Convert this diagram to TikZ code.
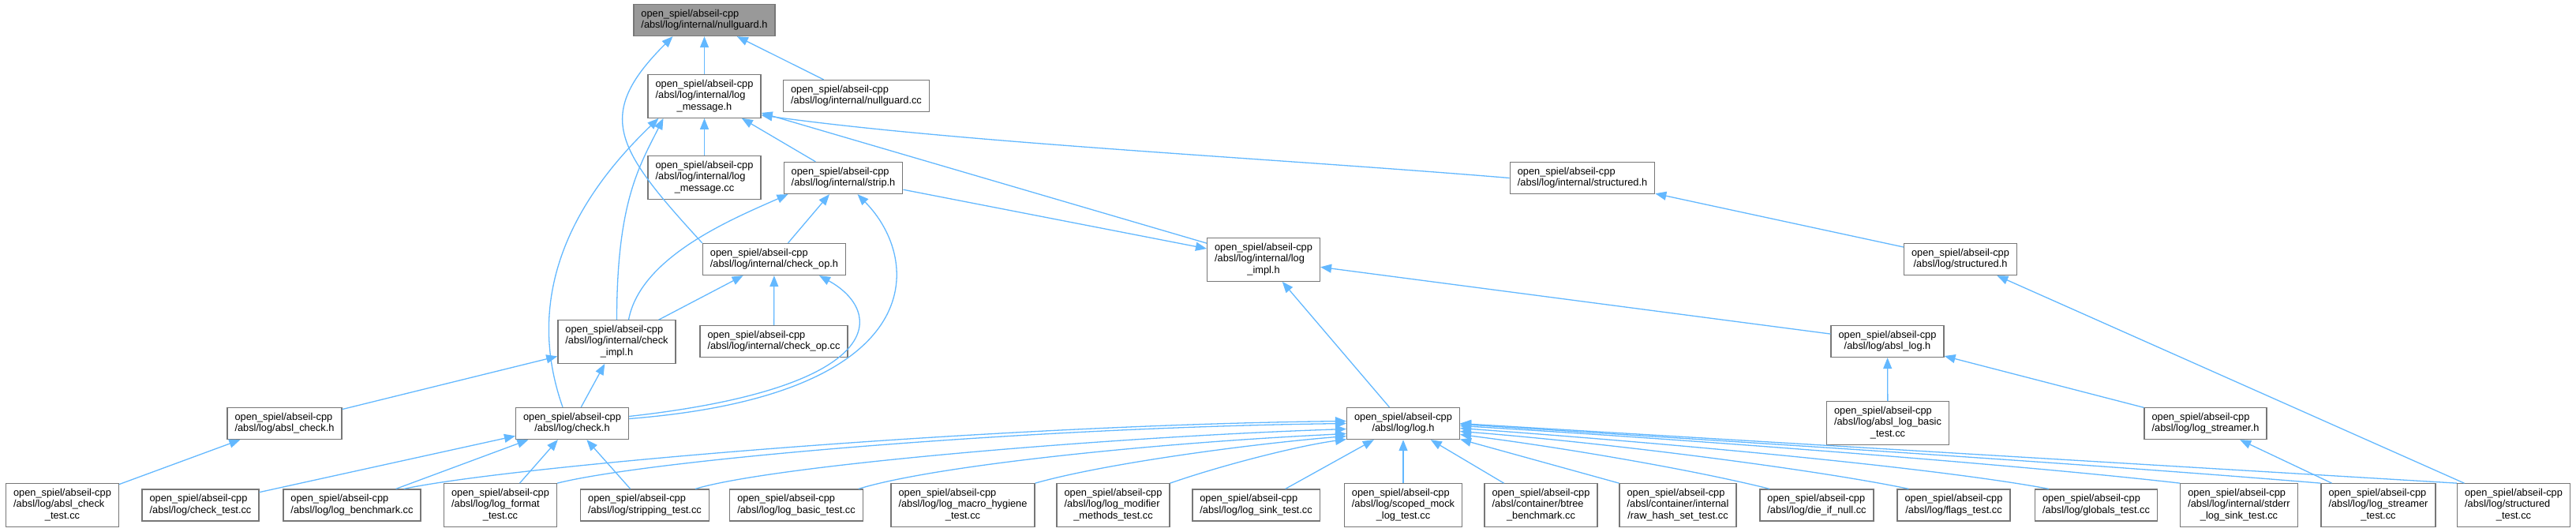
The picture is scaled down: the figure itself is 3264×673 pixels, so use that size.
\documentclass[tikz,border=0pt]{standalone}
\usepackage{fontspec}
\setmainfont{Liberation Sans}
\usepackage{tikz}
\usetikzlibrary{arrows.meta}
\definecolor{edgeblue}{HTML}{63B8FF}
\definecolor{boxgray}{HTML}{777777}
\definecolor{curgray}{HTML}{999999}
\newcommand{\lastln}[1]{\multicolumn{1}{@{}c@{}}{#1}}
\newcommand{\incfile}[2][]{\begin{tabular}{@{}l@{}}open\_spiel/abseil-cpp\\#1\lastln{#2}\end{tabular}}

\begin{document}
\begin{tikzpicture}[x=1pt,y=-1pt]
\tikzstyle{every node}=[draw=boxgray,line width=1.3pt,fill=white,inner xsep=9.5pt,inner ysep=5.6pt,font=\fontsize{12.8}{14.4}\selectfont]
\tikzstyle{incl}=[draw=edgeblue,line width=1.3pt,-{Triangle[length=14pt,width=11pt]}]
\useasboundingbox (0,0) rectangle (3264,673);
\node[fill=curgray] (ng) at (892.5,25.5) {\incfile{/absl/log/internal/nullguard.h}};
\node (lmh) at (892.5,122) {\incfile[/absl/log/internal/log\\]{\_message.h}};
\node (ngcc) at (1085,121.5) {\incfile{/absl/log/internal/nullguard.cc}};
\node (lmcc) at (892.5,225) {\incfile[/absl/log/internal/log\\]{\_message.cc}};
\node (strip) at (1068.5,225.5) {\incfile{/absl/log/internal/strip.h}};
\node (istruct) at (2005,225.5) {\incfile{/absl/log/internal/structured.h}};
\node (checkop) at (981,328.5) {\incfile{/absl/log/internal/check\_op.h}};
\node (logimpl) at (1601,329) {\incfile[/absl/log/internal/log\\]{\_impl.h}};
\node (struct) at (2484,328.5) {\incfile{/absl/log/structured.h}};
\node (checkimpl) at (781.5,433) {\incfile[/absl/log/internal/check\\]{\_impl.h}};
\node (checkopcc) at (980.5,432.5) {\incfile{/absl/log/internal/check\_op.cc}};
\node (abslog) at (2391.5,432.5) {\incfile{/absl/log/absl\_log.h}};
\node (abscheck) at (360.5,536.5) {\incfile{/absl/log/absl\_check.h}};
\node (check) at (725,536.5) {\incfile{/absl/log/check.h}};
\node (log) at (1778,536.5) {\incfile{/absl/log/log.h}};
\node (abslogbasic) at (2392,536) {\incfile[/absl/log/absl\_log\_basic\\]{\_test.cc}};
\node (streamer) at (2794.5,536.5) {\incfile{/absl/log/log\_streamer.h}};
\node (abschecktest) at (79,640) {\incfile[/absl/log/absl\_check\\]{\_test.cc}};
\node (checktest) at (254,640) {\incfile{/absl/log/check\_test.cc}};
\node (bench) at (446,640) {\incfile{/absl/log/log\_benchmark.cc}};
\node (format) at (634,640) {\incfile[/absl/log/log\_format\\]{\_test.cc}};
\node (stripping) at (817,640) {\incfile{/absl/log/stripping\_test.cc}};
\node (basic) at (1009,640) {\incfile{/absl/log/log\_basic\_test.cc}};
\node (hygiene) at (1220,640) {\incfile[/absl/log/log\_macro\_hygiene\\]{\_test.cc}};
\node (modifier) at (1410.5,640) {\incfile[/absl/log/log\_modifier\\]{\_methods\_test.cc}};
\node (sink) at (1591.5,640) {\incfile{/absl/log/log\_sink\_test.cc}};
\node (mock) at (1778,640) {\incfile[/absl/log/scoped\_mock\\]{\_log\_test.cc}};
\node (btree) at (1952.5,640) {\incfile[/absl/container/btree\\]{\_benchmark.cc}};
\node (rawhash) at (2126,640) {\incfile[/absl/container/internal\\]{/raw\_hash\_set\_test.cc}};
\node (dieifnull) at (2302,640) {\incfile{/absl/log/die\_if\_null.cc}};
\node (flags) at (2475.5,640) {\incfile{/absl/log/flags\_test.cc}};
\node (globals) at (2656,640) {\incfile{/absl/log/globals\_test.cc}};
\node (stderr) at (2837,640) {\incfile[/absl/log/internal/stderr\\]{\_log\_sink\_test.cc}};
\node (streamertest) at (3013.5,640) {\incfile[/absl/log/log\_streamer\\]{\_test.cc}};
\node (structtest) at (3185,640) {\incfile[/absl/log/structured\\]{\_test.cc}};
\draw[incl] (lmh) -- (ng);
\draw[incl] (ngcc) -- (ng);
\draw[incl] (checkop.north west) .. controls +(-110,-120) and +(-100,100) .. ([xshift=-40pt]ng.south);
\draw[incl] (lmcc) -- (lmh);
\draw[incl] (strip) -- (lmh);
\draw[incl] (istruct.west) .. controls +(-300,-25) and +(250,35) .. ([yshift=4pt]lmh.south east);
\draw[incl] (logimpl) -- (lmh);
\draw[incl] (checkimpl.north) .. controls +(0,-150) and +(-30,60) .. ([xshift=-52pt]lmh.south);
\draw[incl] ([xshift=-12pt]check.north) .. controls +(-48,-136) and +(-115,110) .. ([xshift=-58pt]lmh.south);
\draw[incl] (strip) -- (logimpl);
\draw[incl] ([xshift=15pt]checkimpl.north) .. controls +(15,-80) and +(-70,31) .. ([xshift=-70pt]strip.south);
\draw[incl] (checkop) -- (strip);
\draw[incl] ([yshift=6pt]check.east) .. controls +(382,-30) and +(83,84) .. ([xshift=18pt]strip.south);
\draw[incl] ([yshift=9pt]check.east) .. controls +(332,-37) and +(82,45) .. ([xshift=57pt]checkop.south);
\draw[incl] (checkimpl) -- (checkop);
\draw[incl] (checkopcc) -- (checkop);
\draw[incl] (abscheck) -- (checkimpl);
\draw[incl] (check) -- (checkimpl);
\draw[incl] (abschecktest) -- (abscheck);
\draw[incl] (checktest) -- (check);
\draw[incl] (bench) -- (check);
\draw[incl] (format) -- (check);
\draw[incl] (stripping) -- (check);
\draw[incl] ([xshift=-22pt]bench.north east) .. controls +(136,-29) and +(-450,5) .. ([yshift=3pt]log.west);
\draw[incl] (format.north east) .. controls +(120,-30) and +(-400,5) .. (log.west);
\draw[incl] ([xshift=-18pt]stripping.north east) .. controls +(100,-30) and +(-300,10) .. ([yshift=-7pt]log.west);
\draw[incl] ([xshift=-6pt]basic.north east) .. controls +(94,-29) and +(-250,12) .. ([yshift=-13pt]log.west);
\draw[incl] (hygiene.north east) .. controls +(88,-25) and +(-122,10) .. ([yshift=-16pt]log.west);
\draw[incl] (modifier.north east) .. controls +(66,-23) and +(-60,8) .. ([yshift=-20pt]log.west);
\draw[incl] (sink) -- (log);
\draw[incl] (mock) -- (log);
\draw[incl] (btree) -- (log);
\draw[incl] (rawhash.north west) -- ([yshift=-20pt]log.east);
\draw[incl] ([xshift=13pt]dieifnull.north west) .. controls +(-100,-25) and +(120,15) .. ([yshift=-14pt]log.east);
\draw[incl] ([xshift=15pt]flags.north west) .. controls +(-120,-25) and +(180,14) .. ([yshift=-10pt]log.east);
\draw[incl] ([xshift=18pt]globals.north west) .. controls +(-150,-28) and +(250,18) .. ([yshift=-6pt]log.east);
\draw[incl] (stderr.north west) .. controls +(-200,-23) and +(300,18) .. ([yshift=-3pt]log.east);
\draw[incl] (streamertest.north west) .. controls +(-300,-25) and +(350,22) .. ([yshift=-1pt]log.east);
\draw[incl] (structtest.north west) -- (log.east);
\draw[incl] (log) -- (logimpl);
\draw[incl] (abslog) -- (logimpl);
\draw[incl] (abslogbasic) -- (abslog);
\draw[incl] (streamer) -- (abslog);
\draw[incl] (streamertest) -- (streamer);
\draw[incl] (struct) -- (istruct);
\draw[incl] (structtest) -- (struct);
\end{tikzpicture}
\end{document}
